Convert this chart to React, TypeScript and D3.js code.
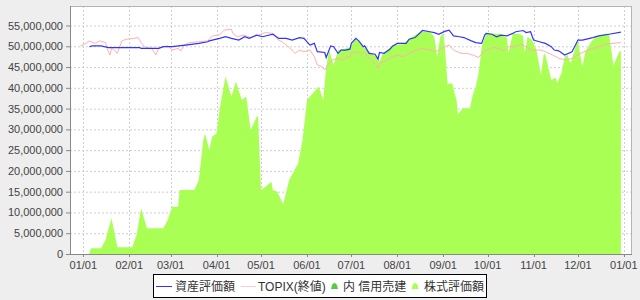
import React from "react";
import * as d3 from "d3";

// ---- data (values in yen) ----
const stockDates = ["2014-01-05","2014-01-06","2014-01-13","2014-01-16","2014-01-20","2014-01-24","2014-02-03","2014-02-06","2014-02-09","2014-02-13","2014-02-24","2014-02-27","2014-03-02","2014-03-06","2014-03-07","2014-03-17","2014-03-20","2014-03-23","2014-03-24","2014-03-26","2014-03-27","2014-03-29","2014-04-01","2014-04-03","2014-04-07","2014-04-11","2014-04-14","2014-04-18","2014-04-21","2014-04-24","2014-04-28","2014-04-29","2014-05-01","2014-05-04","2014-05-08","2014-05-09","2014-05-12","2014-05-16","2014-05-20","2014-05-26","2014-05-29","2014-06-01","2014-06-03","2014-06-05","2014-06-08","2014-06-09","2014-06-12","2014-06-14","2014-06-16","2014-06-19","2014-06-22","2014-06-25","2014-06-30","2014-07-04","2014-07-10","2014-07-18","2014-07-20","2014-07-22","2014-07-29","2014-08-05","2014-08-09","2014-08-17","2014-08-23","2014-08-26","2014-08-28","2014-08-30","2014-09-01","2014-09-02","2014-09-04","2014-09-07","2014-09-10","2014-09-11","2014-09-14","2014-09-19","2014-09-21","2014-09-23","2014-09-25","2014-09-27","2014-09-30","2014-10-10","2014-10-12","2014-10-14","2014-10-15","2014-10-18","2014-10-22","2014-10-25","2014-10-26","2014-10-28","2014-10-31","2014-11-03","2014-11-06","2014-11-08","2014-11-09","2014-11-13","2014-11-16","2014-11-17","2014-11-20","2014-11-22","2014-11-24","2014-11-26","2014-11-30","2014-12-01","2014-12-04","2014-12-06","2014-12-10","2014-12-13","2014-12-20","2014-12-22","2014-12-25","2014-12-27","2014-12-29","2014-12-30"];
const stockValues = [0,1.4e6,1.4e6,3.4e6,8.6e6,1.6e6,1.6e6,4.6e6,11.0e6,6.2e6,6.2e6,8.2e6,11.4e6,11.4e6,15.4e6,15.4e6,17.8e6,27.4e6,29.0e6,26.6e6,25.0e6,28.2e6,29.0e6,34.7e6,42.7e6,37.9e6,41.5e6,37.1e6,37.9e6,29.8e6,33.0e6,33.2e6,15.4e6,16.2e6,17.4e6,15.4e6,15.0e6,12.0e6,17.8e6,21.8e6,27.4e6,37.0e6,37.9e6,38.7e6,39.9e6,40.3e6,37.1e6,45.1e6,49.1e6,45.5e6,49.1e6,49.3e6,49.7e6,51.9e6,49.5e6,47.5e6,46.3e6,48.1e6,50.3e6,50.5e6,51.9e6,53.5e6,53.5e6,52.3e6,47.5e6,52.3e6,53.1e6,50.5e6,40.9e6,41.1e6,37.1e6,33.5e6,35.1e6,35.1e6,38.3e6,40.3e6,43.7e6,49.9e6,53.1e6,53.0e6,52.3e6,52.1e6,48.3e6,53.0e6,53.0e6,52.5e6,48.3e6,52.3e6,51.5e6,49.1e6,43.1e6,48.3e6,47.9e6,41.9e6,42.5e6,41.1e6,43.7e6,47.5e6,47.9e6,45.9e6,50.7e6,51.1e6,45.1e6,48.7e6,51.1e6,52.3e6,53.1e6,52.9e6,45.3e6,47.1e6,48.7e6,49.0e6];

const assetDates = ["2014-01-05","2014-01-07","2014-01-13","2014-01-18","2014-02-08","2014-02-09","2014-02-21","2014-02-24","2014-03-02","2014-03-11","2014-03-20","2014-03-26","2014-03-27","2014-04-03","2014-04-07","2014-04-11","2014-04-16","2014-04-20","2014-04-23","2014-04-28","2014-05-02","2014-05-09","2014-05-13","2014-05-18","2014-05-22","2014-05-27","2014-05-30","2014-06-03","2014-06-06","2014-06-08","2014-06-13","2014-06-14","2014-06-17","2014-06-19","2014-06-22","2014-06-24","2014-06-27","2014-06-30","2014-07-01","2014-07-04","2014-07-06","2014-07-09","2014-07-10","2014-07-13","2014-07-17","2014-07-19","2014-07-20","2014-07-23","2014-07-27","2014-07-29","2014-08-01","2014-08-07","2014-08-09","2014-08-13","2014-08-18","2014-08-23","2014-08-26","2014-08-29","2014-09-02","2014-09-05","2014-09-08","2014-09-12","2014-09-15","2014-09-20","2014-09-23","2014-09-27","2014-09-29","2014-09-30","2014-10-04","2014-10-07","2014-10-10","2014-10-14","2014-10-18","2014-10-20","2014-10-25","2014-10-27","2014-10-30","2014-11-01","2014-11-05","2014-11-09","2014-11-13","2014-11-15","2014-11-18","2014-11-22","2014-11-27","2014-12-01","2014-12-04","2014-12-11","2014-12-15","2014-12-22","2014-12-30"];
const assetValues = [49.9e6,50.1e6,50.1e6,49.7e6,49.7e6,49.5e6,49.5e6,49.9e6,49.9e6,50.3e6,50.7e6,51.1e6,51.3e6,51.9e6,52.3e6,51.9e6,51.5e6,52.3e6,51.9e6,52.7e6,52.3e6,52.9e6,51.9e6,51.9e6,51.5e6,52.1e6,51.9e6,50.3e6,50.7e6,48.7e6,48.5e6,47.3e6,50.1e6,49.9e6,48.3e6,49.1e6,49.1e6,49.3e6,50.7e6,51.9e6,51.3e6,49.9e6,50.1e6,48.3e6,48.1e6,46.9e6,48.5e6,48.3e6,49.3e6,50.1e6,50.7e6,50.7e6,51.7e6,52.1e6,53.8e6,53.5e6,53.3e6,52.9e6,53.6e6,53.9e6,52.5e6,52.3e6,52.1e6,51.3e6,50.9e6,50.7e6,52.7e6,53.1e6,52.9e6,52.3e6,52.7e6,52.5e6,53.1e6,53.5e6,53.8e6,53.3e6,53.5e6,51.5e6,51.1e6,50.7e6,49.9e6,49.1e6,48.9e6,47.9e6,48.7e6,51.5e6,51.5e6,52.1e6,52.5e6,52.9e6,53.4e6];

const topixDates = ["2013-12-30","2014-01-02","2014-01-05","2014-01-09","2014-01-12","2014-01-16","2014-01-17","2014-01-19","2014-01-20","2014-01-22","2014-01-24","2014-01-27","2014-01-30","2014-02-04","2014-02-07","2014-02-09","2014-02-12","2014-02-16","2014-02-19","2014-02-21","2014-02-27","2014-03-02","2014-03-06","2014-03-08","2014-03-10","2014-03-14","2014-03-20","2014-03-26","2014-03-29","2014-04-03","2014-04-06","2014-04-11","2014-04-12","2014-04-15","2014-04-19","2014-04-21","2014-04-24","2014-04-29","2014-05-04","2014-05-09","2014-05-12","2014-05-16","2014-05-20","2014-05-24","2014-05-27","2014-05-30","2014-06-03","2014-06-06","2014-06-08","2014-06-11","2014-06-13","2014-06-15","2014-06-18","2014-06-22","2014-06-25","2014-06-28","2014-06-30","2014-07-01","2014-07-04","2014-07-06","2014-07-10","2014-07-13","2014-07-17","2014-07-19","2014-07-21","2014-07-23","2014-07-29","2014-08-01","2014-08-05","2014-08-09","2014-08-14","2014-08-18","2014-08-23","2014-08-27","2014-08-31","2014-09-05","2014-09-08","2014-09-13","2014-09-17","2014-09-21","2014-09-25","2014-09-28","2014-10-02","2014-10-04","2014-10-09","2014-10-12","2014-10-15","2014-10-20","2014-10-23","2014-10-27","2014-10-31","2014-11-06","2014-11-09","2014-11-14","2014-11-18","2014-11-23","2014-11-27","2014-12-01","2014-12-04","2014-12-09","2014-12-13","2014-12-20","2014-12-24","2014-12-30"];
const topixValues = [50.1e6,50.5e6,51.3e6,50.7e6,51.3e6,50.9e6,49.5e6,47.9e6,49.5e6,49.1e6,48.3e6,51.3e6,51.7e6,51.9e6,52.1e6,50.9e6,49.7e6,49.5e6,47.9e6,49.7e6,50.1e6,49.1e6,49.5e6,48.9e6,50.3e6,50.9e6,51.1e6,51.3e6,52.5e6,52.7e6,53.9e6,54.1e6,53.1e6,52.3e6,52.7e6,52.5e6,52.1e6,52.7e6,53.3e6,53.1e6,51.7e6,50.9e6,49.7e6,48.3e6,49.1e6,48.7e6,49.1e6,47.5e6,45.5e6,45.1e6,44.3e6,45.5e6,46.7e6,47.1e6,46.7e6,47.5e6,47.3e6,48.5e6,48.7e6,48.3e6,48.5e6,47.1e6,45.9e6,44.7e6,46.3e6,46.3e6,47.5e6,47.9e6,47.5e6,48.3e6,49.1e6,49.5e6,49.1e6,48.7e6,49.5e6,50.3e6,49.1e6,48.3e6,48.3e6,47.9e6,47.3e6,48.7e6,49.3e6,49.7e6,49.5e6,48.9e6,49.9e6,49.9e6,50.5e6,49.9e6,49.1e6,49.1e6,48.7e6,47.9e6,47.1e6,46.7e6,47.1e6,47.9e6,48.5e6,49.3e6,49.7e6,50.5e6,50.7e6,50.9e6];

// 内 信用売建 (short sales) - zero throughout
const shortDates = ["2014-01-05", "2014-12-30"];
const shortValues = [0, 0];

const yTickValues = [0, 5e6, 10e6, 15e6, 20e6, 25e6, 30e6, 35e6, 40e6, 45e6, 50e6, 55e6];
const legendLabels = ["資産評価額", "TOPIX(終値)", "内 信用売建", "株式評価額"];

const parse = d3.timeParse("%Y-%m-%d");
type Pt = { d: Date; v: number };
const zip = (ds: string[], vs: number[]): Pt[] => ds.map((s, i) => ({ d: parse(s) as Date, v: vs[i] }));

export default function App() {
  const W = 640, H = 300;
  const L = 70, R = 632, T = 6, B = 254;
  const x = d3.scaleTime().domain([new Date(2013, 11, 23), new Date(2015, 0, 6, 12)]).range([L, R]);
  const y = d3.scaleLinear().domain([0, 59.7e6]).range([B, T]);

  const stock = zip(stockDates, stockValues);
  const asset = zip(assetDates, assetValues);
  const topix = zip(topixDates, topixValues);
  const short = zip(shortDates, shortValues);

  const area = d3.area<Pt>().x((p) => x(p.d)).y0(y(0)).y1((p) => y(p.v));
  const line = d3.line<Pt>().x((p) => x(p.d)).y((p) => y(p.v));

  const xTicks = x.ticks(d3.timeMonth.every(1) as any);
  const fmtX = d3.timeFormat("%m/%d");
  const fmtY = d3.format(",");
  const font = "'Liberation Sans', Arial, 'Noto Sans CJK JP', sans-serif";

  const icon = (cx: number, cy: number, fill: string) =>
    `M${cx - 3.5},${cy + 3} L${cx - 2.5},${cy - 1} Q${cx},${cy - 5} ${cx + 2.5},${cy - 1} L${cx + 3.5},${cy + 3} Z`;

  return (
    <svg width={W} height={H} style={{ position: "absolute", left: 0, top: 0, fontFamily: font }}>
      <rect x={0} y={0} width={W} height={H} fill="#eeeeee" />
      <rect x={L} y={T} width={R - L} height={B - T} fill="#ffffff" />
      {/* grid */}
      {yTickValues.map((v) => (
        <line key={"gy" + v} x1={L} x2={R} y1={y(v) + 0.5} y2={y(v) + 0.5} stroke="#cfcfcf" strokeDasharray="2,2" />
      ))}
      {xTicks.map((t) => (
        <line key={"gx" + +t} x1={Math.round(x(t)) + 0.5} x2={Math.round(x(t)) + 0.5} y1={T} y2={B} stroke="#cfcfcf" strokeDasharray="2,2" />
      ))}
      {/* series */}
      <path d={area(stock) || ""} fill="#aaff55" />
      <path d={area(short) || ""} fill="#55cc44" />
      <path d={line(topix) || ""} fill="none" stroke="#ffb0b0" strokeWidth={1} />
      <path d={line(asset) || ""} fill="none" stroke="#3333ff" strokeWidth={1.2} />
      {/* frame */}
      <line x1={L} x2={R} y1={T + 0.5} y2={T + 0.5} stroke="#b4b4b4" />
      <line x1={R - 0.5} x2={R - 0.5} y1={T} y2={B} stroke="#b4b4b4" />
      <line x1={L + 0.5} x2={L + 0.5} y1={T} y2={B + 1} stroke="#888888" />
      <line x1={L} x2={R} y1={B + 0.5} y2={B + 0.5} stroke="#888888" />
      {/* y axis */}
      {yTickValues.map((v) => (
        <g key={"ty" + v}>
          <line x1={L - 4} x2={L} y1={y(v) + 0.5} y2={y(v) + 0.5} stroke="#888888" />
          <text x={63} y={y(v) + 4} textAnchor="end" fontSize={11} fill="#444444">{fmtY(v)}</text>
        </g>
      ))}
      {/* x axis */}
      {xTicks.map((t) => (
        <g key={"tx" + +t}>
          <line x1={Math.round(x(t)) + 0.5} x2={Math.round(x(t)) + 0.5} y1={B} y2={B + 3} stroke="#888888" />
          <text x={x(t)} y={269} textAnchor="middle" fontSize={11} fill="#444444">{fmtX(t)}</text>
        </g>
      ))}
      {/* legend */}
      <rect x={153.5} y={274.5} width={333} height={23} fill="#ffffff" stroke="#000000" />
      <line x1={156} x2={172} y1={286.5} y2={286.5} stroke="#3333ff" />
      <text x={175} y={291} fontSize={12} fill="#333333">{legendLabels[0]}</text>
      <line x1={241} x2={256} y1={286.5} y2={286.5} stroke="#ffcccc" />
      <text x={258} y={291} fontSize={12} fill="#333333">{legendLabels[1]}</text>
      <path d={icon(334.5, 286, "")} fill="#55cc44" />
      <text x={343} y={291} fontSize={12} fill="#333333">{legendLabels[2]}</text>
      <path d={icon(415, 286, "")} fill="#aaff55" />
      <text x={424} y={291} fontSize={12} fill="#333333">{legendLabels[3]}</text>
    </svg>
  );
}
